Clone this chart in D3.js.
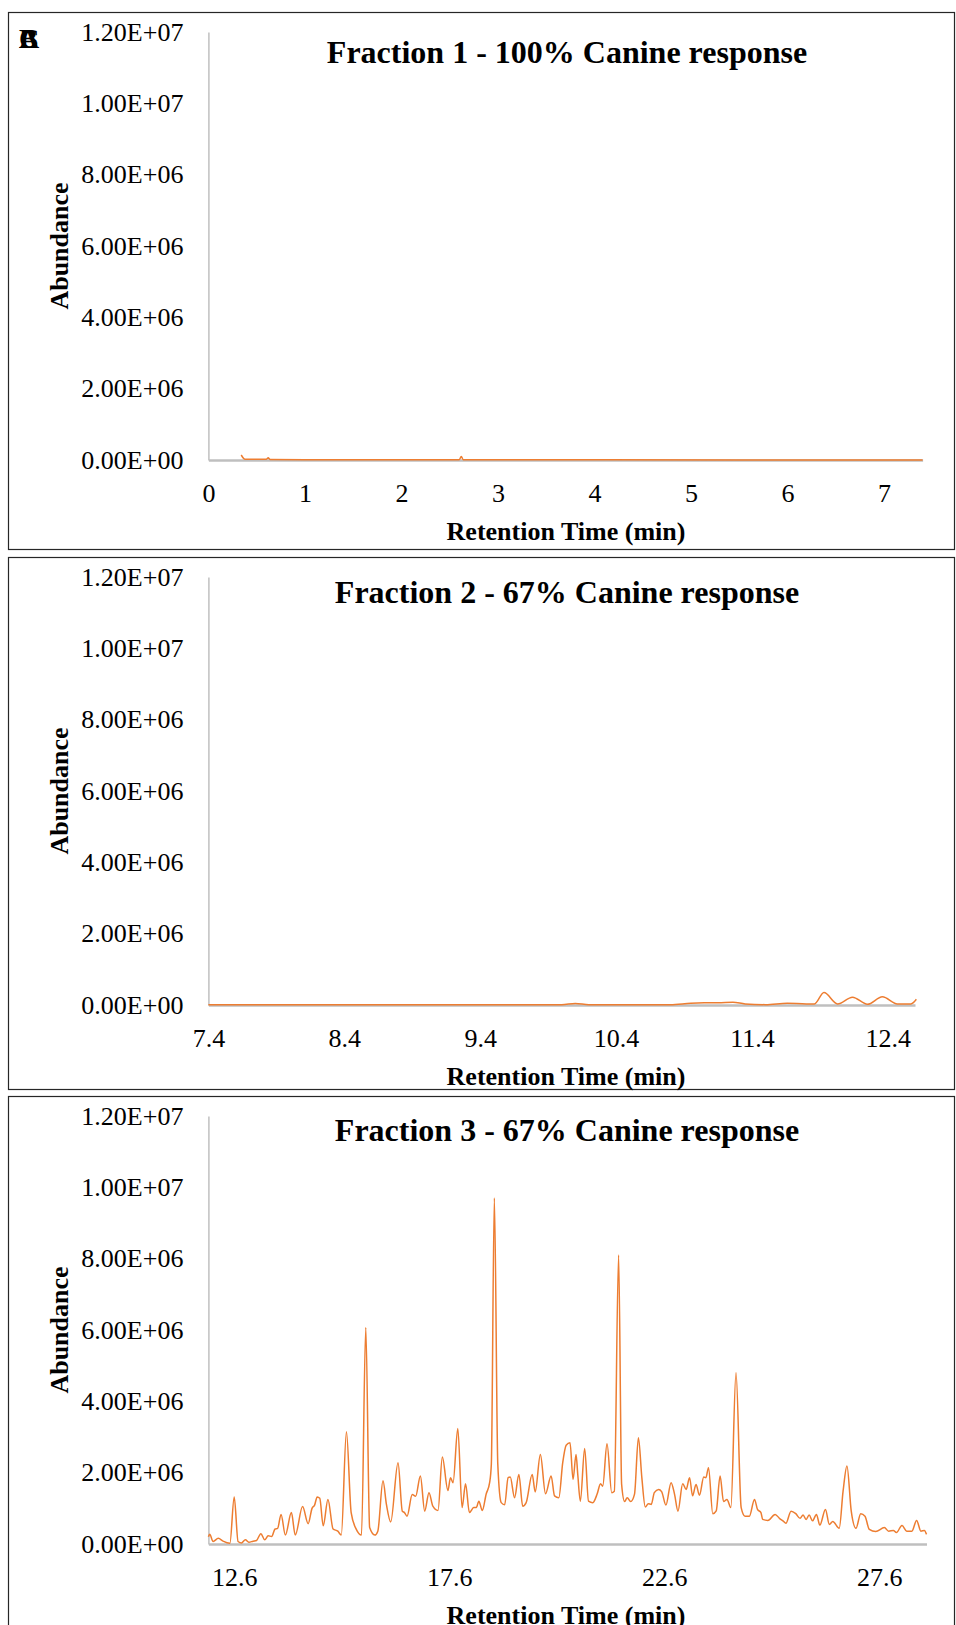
<!DOCTYPE html>
<html>
<head>
<meta charset="utf-8">
<script src="https://cdn.jsdelivr.net/npm/d3@7"></script>
<style>
  body { margin: 0; background: #fff; }
  text { font-family: "Liberation Serif", "Times New Roman", serif; fill: #000; }
</style>
</head>
<body>
<div id="chart"></div>
<script>
// Data (abundance in units of 1E+06)
const titles = [
  'Fraction 1 - 100% Canine response',
  'Fraction 2 - 67% Canine response',
  'Fraction 3 - 67% Canine response'
];
const yTicks = [0, 2, 4, 6, 8, 10, 12];
const f1Ticks = [0, 1, 2, 3, 4, 5, 6, 7];
const f2Ticks = [7.4, 8.4, 9.4, 10.4, 11.4, 12.4];
const f3Ticks = [12.6, 17.6, 22.6, 27.6];

const f1Time  = [0.34, 0.38, 0.60, 0.62, 0.64, 1.0, 2.0, 2.60, 2.62, 2.64, 4.0, 5.5, 7.4];
const f1Abund = [0.14, 0.02, 0.02, 0.06, 0.015, 0.01, 0.01, 0.01, 0.10, 0.01, 0.005, 0.0, 0.0];

const f2Time  = [7.4, 8.4, 9.4, 10.0, 10.1, 10.2, 10.8, 10.95, 11.05, 11.15, 11.26, 11.35, 11.5, 11.66,
  11.8, 11.86, 11.93, 12.03, 12.14, 12.25, 12.36, 12.47, 12.57, 12.61];
const f2Abund = [0.01, 0.01, 0.01, 0.01, 0.04, 0.01, 0.01, 0.05, 0.06, 0.06, 0.08, 0.03, 0.01, 0.05,
  0.03, 0.03, 0.35, 0.03, 0.22, 0.02, 0.23, 0.03, 0.03, 0.16];

const f3Time = [
  12.00, 12.03, 12.11, 12.23, 12.34, 12.50, 12.60, 12.69, 12.77, 12.86, 12.94, 13.04, 13.12, 13.22,
  13.31, 13.39, 13.47, 13.55, 13.61, 13.69, 13.79, 13.93, 14.02, 14.19, 14.32, 14.41, 14.47, 14.53,
  14.59, 14.67, 14.78, 14.90, 15.01, 15.09, 15.21, 15.32, 15.44, 15.56, 15.66, 15.75, 15.87, 15.94,
  16.06, 16.14, 16.24, 16.41, 16.51, 16.56, 16.62, 16.74, 16.82, 16.93, 17.03, 17.13, 17.22, 17.34,
  17.44, 17.57, 17.63, 17.69, 17.80, 17.90, 17.98, 18.07, 18.17, 18.23, 18.29, 18.37, 18.46, 18.54,
  18.58, 18.65, 18.73, 18.81, 18.89, 18.97, 19.02, 19.12, 19.22, 19.31, 19.39, 19.53, 19.60, 19.72,
  19.84, 19.97, 20.05, 20.15, 20.24, 20.32, 20.41, 20.48, 20.55, 20.59, 20.65, 20.75, 20.84, 20.94,
  21.04, 21.12, 21.17, 21.27, 21.38, 21.44, 21.54, 21.61, 21.68, 21.74, 21.82, 21.91, 22.00, 22.08,
  22.16, 22.23, 22.30, 22.37, 22.47, 22.54, 22.64, 22.76, 22.84, 22.92, 23.03, 23.11, 23.19, 23.26,
  23.34, 23.42, 23.52, 23.57, 23.63, 23.73, 23.81, 23.90, 23.98, 24.06, 24.15, 24.27, 24.39, 24.48,
  24.58, 24.70, 24.77, 24.85, 24.89, 25.01, 25.18, 25.28, 25.37, 25.43, 25.55, 25.66, 25.76, 25.83,
  25.90, 25.97, 26.05, 26.14, 26.22, 26.35, 26.44, 26.52, 26.67, 26.76, 26.85, 26.95, 27.06, 27.17,
  27.27, 27.37, 27.52, 27.72, 27.82, 27.93, 28.00, 28.13, 28.24, 28.36, 28.47, 28.57, 28.65, 28.70
];
const f3Abund = [
  0.20, 0.27, 0.07, 0.16, 0.08, 0.02, 1.32, 0.07, 0.03, 0.12, 0.05, 0.08, 0.10, 0.29,
  0.12, 0.23, 0.21, 0.42, 0.44, 0.83, 0.25, 0.88, 0.25, 1.05, 0.57, 1.00, 1.09, 1.32,
  1.28, 0.51, 1.25, 0.42, 0.36, 0.25, 3.15, 0.88, 0.41, 0.25, 6.07, 0.46, 0.25, 0.36,
  1.77, 1.11, 0.62, 2.28, 0.92, 0.88, 0.78, 1.39, 1.34, 1.91, 0.92, 1.44, 1.06, 0.94,
  2.44, 1.50, 1.86, 1.72, 3.24, 1.02, 1.69, 0.88, 1.02, 1.02, 1.20, 0.94, 1.40, 1.72,
  2.24, 9.70, 2.24, 1.16, 1.10, 1.86, 1.88, 1.30, 1.95, 1.06, 1.16, 1.95, 1.46, 2.51,
  1.41, 1.91, 1.35, 1.30, 2.28, 2.77, 2.84, 1.81, 2.51, 1.95, 1.20, 2.68, 1.20, 1.16,
  1.40, 1.69, 1.62, 2.81, 1.44, 1.48, 8.10, 1.67, 1.19, 1.30, 1.19, 1.40, 2.98, 1.86,
  1.04, 1.13, 1.11, 1.44, 1.53, 1.47, 1.09, 1.72, 1.40, 0.92, 1.69, 1.53, 1.86, 1.35,
  1.67, 1.37, 1.88, 1.86, 2.14, 0.85, 0.93, 1.91, 1.19, 1.25, 1.02, 4.80, 1.02, 0.78,
  0.78, 1.25, 0.97, 0.88, 0.69, 0.66, 0.83, 0.72, 0.64, 0.58, 0.92, 0.85, 0.72, 0.81,
  0.69, 0.81, 0.65, 0.83, 0.53, 0.97, 0.55, 0.63, 0.44, 1.48, 2.19, 0.92, 0.44, 0.85,
  0.78, 0.41, 0.35, 0.46, 0.36, 0.38, 0.32, 0.52, 0.36, 0.36, 0.66, 0.36, 0.38, 0.27
];

// Panel layout
const panels = [
  { top: 12,   height: 537, domain: [0, 7.4],     right: 922.6, ticks: f1Ticks, fmt: d3.format('d'),  time: f1Time, abund: f1Abund, titleY: 40 },
  { top: 557,  height: 532, domain: [7.4, 12.6],  right: 915,   ticks: f2Ticks, fmt: d3.format('.1f'), time: f2Time, abund: f2Abund, titleY: 35 },
  { top: 1096, height: 600, domain: [12.0, 28.7], right: 926.5, ticks: f3Ticks, fmt: d3.format('.1f'), time: f3Time, abund: f3Abund, titleY: 34 }
];

const width = 956;
const height = 1625;
const left = 208.4;

const svg = d3.select('#chart')
  .append('svg')
  .attr('width', width)
  .attr('height', height);

// 1.20E+07 style labels
const sci = d => {
  const v = d * 1e6;
  if (v === 0) return '0.00E+00';
  const e = Math.floor(Math.log10(v));
  const m = v / Math.pow(10, e);
  return m.toFixed(2) + 'E+' + String(e).padStart(2, '0');
};

const yScale = d3.scaleLinear()
  .domain([0, 12])
  .range([448, 20]);

panels.forEach((p, i) => {
  const g = svg.append('g')
    .attr('transform', `translate(0, ${p.top})`);

  // Border
  g.append('rect')
    .attr('x', 8.5)
    .attr('y', 0.5)
    .attr('width', 946)
    .attr('height', p.height)
    .attr('fill', 'none')
    .attr('stroke', '#262626')
    .attr('stroke-width', 1.2);

  const xScale = d3.scaleLinear()
    .domain(p.domain)
    .range([left, p.right]);

  // y-axis
  const ya = g.append('g')
    .attr('transform', `translate(${left}, 0)`)
    .call(d3.axisLeft(yScale).tickValues(yTicks).tickSize(0).tickSizeOuter(0).tickPadding(25).tickFormat(sci));
  ya.select('.domain').attr('stroke', '#c0c0c0').attr('stroke-width', 1.5);
  ya.selectAll('text')
    .style('font-family', '"Liberation Serif", serif')
    .style('font-size', '26px')
    .attr('fill', '#000');

  // x-axis
  const xa = g.append('g')
    .attr('transform', `translate(0, ${yScale(0)})`)
    .call(d3.axisBottom(xScale).tickValues(p.ticks).tickSize(0).tickSizeOuter(0).tickFormat(p.fmt));
  xa.select('.domain').attr('stroke', '#bfbfbf').attr('stroke-width', 2.5);
  xa.selectAll('text')
    .attr('y', 33)
    .attr('dy', '0.35em')
    .style('font-family', '"Liberation Serif", serif')
    .style('font-size', '26px')
    .attr('fill', '#000');

  // Chromatogram line
  const pts = p.time.map((t, k) => [t, p.abund[k]]);
  g.append('path')
    .datum(pts)
    .attr('fill', 'none')
    .attr('stroke', '#ed7d31')
    .attr('stroke-width', 1.5)
    .attr('stroke-linejoin', 'round')
    .attr('d', d3.line()
      .x(d => xScale(d[0]))
      .y(d => yScale(d[1]))
      .curve(d3.curveMonotoneX));

  // Title
  g.append('text')
    .attr('x', 567)
    .attr('y', p.titleY)
    .attr('dy', '0.35em')
    .attr('text-anchor', 'middle')
    .style('font-size', '32px')
    .style('font-weight', 'bold')
    .text(titles[i]);

  // Axis titles
  g.append('text')
    .attr('x', 566)
    .attr('y', 519)
    .attr('dy', '0.35em')
    .attr('text-anchor', 'middle')
    .style('font-size', '26px')
    .style('font-weight', 'bold')
    .text('Retention Time (min)');

  g.append('text')
    .attr('transform', `translate(59, ${yScale(6)}) rotate(-90)`)
    .attr('dy', '0.35em')
    .attr('text-anchor', 'middle')
    .style('font-size', '26px')
    .style('font-weight', 'bold')
    .text('Abundance');
});

// Overlapping panel letters in the top-left corner
svg.selectAll('.panel-letter')
  .data(['A', 'B', 'C'])
  .enter()
  .append('text')
  .attr('class', 'panel-letter')
  .attr('x', 19)
  .attr('y', 48)
  .style('font-size', '28px')
  .style('font-weight', 'bold')
  .text(d => d);
</script>
</body>
</html>
